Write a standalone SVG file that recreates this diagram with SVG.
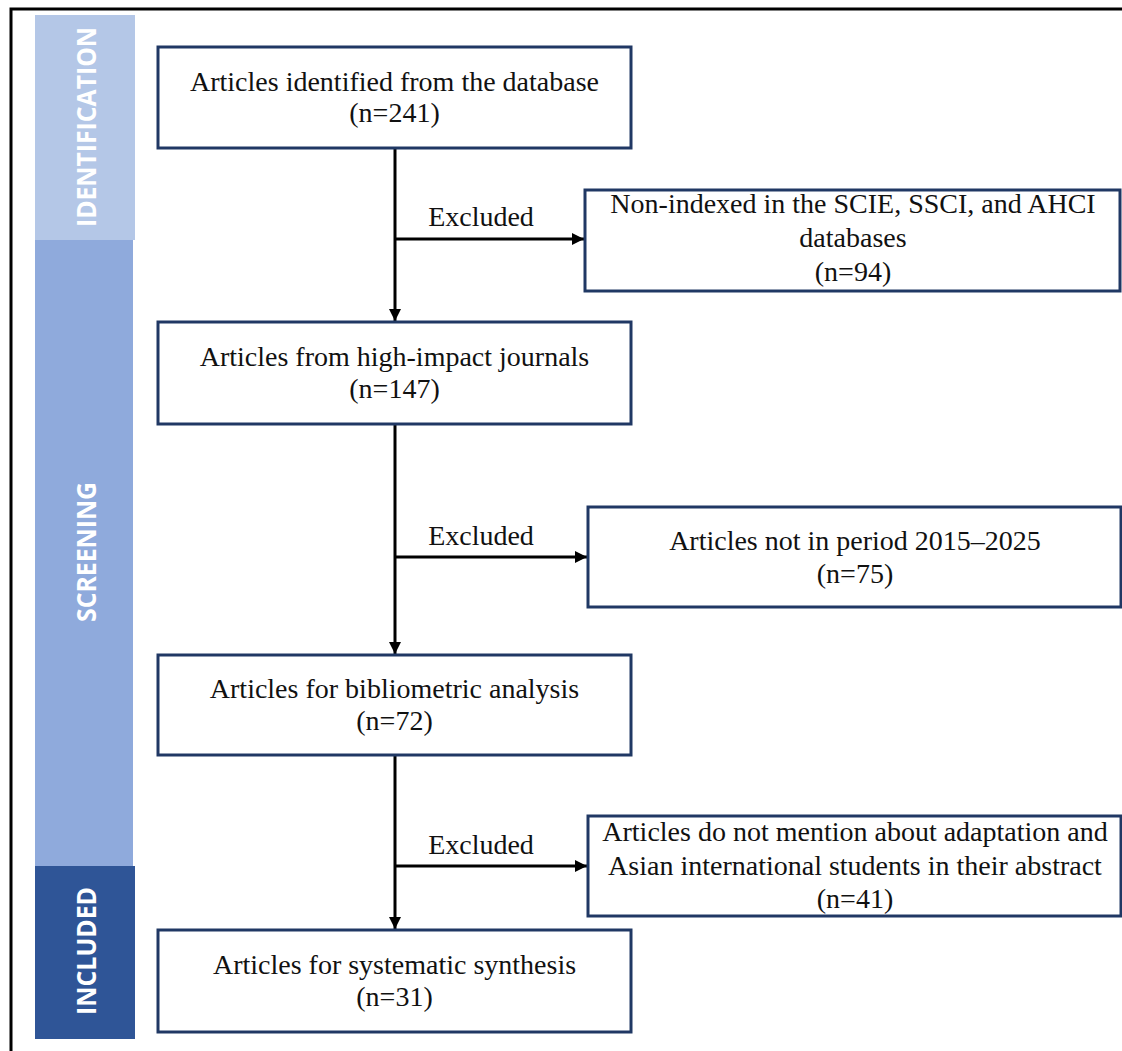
<svg xmlns="http://www.w3.org/2000/svg" width="1122" height="1051" viewBox="0 0 1122 1051">
<style>
.box{fill:#fff;stroke:#203864;stroke-width:3}
.t{font-family:"Liberation Serif","Times New Roman",serif;font-size:28px;fill:#111;text-anchor:middle}
.side{font-family:"Open Sans","DejaVu Sans",sans-serif;font-weight:bold;font-size:27px;fill:#fff;text-anchor:middle}
.ln{stroke:#000;stroke-width:3;fill:none}
</style>
<defs>
<marker id="ah" viewBox="0 0 10 10" refX="10" refY="5" markerWidth="4" markerHeight="4" orient="auto" markerUnits="strokeWidth">
<path d="M0,0 L10,5 L0,10 z" fill="#000"/>
</marker>
</defs>
<rect width="1122" height="1051" fill="#fff"/>
<path d="M11,1051 V9 H1122" fill="none" stroke="#000" stroke-width="3"/>
<g id="phase-identification">
<rect x="35" y="15" width="100" height="225" fill="#B4C7E7"/>
<text class="side" transform="translate(96,127) rotate(-90)" textLength="200" lengthAdjust="spacingAndGlyphs">IDENTIFICATION</text>
</g>
<g id="phase-screening">
<rect x="35" y="240" width="98" height="626" fill="#8FAADC"/>
<text class="side" transform="translate(96,552) rotate(-90)" textLength="140" lengthAdjust="spacingAndGlyphs">SCREENING</text>
</g>
<g id="phase-included">
<rect x="35" y="866" width="100" height="173" fill="#2F5597"/>
<text class="side" transform="translate(96,951) rotate(-90)" textLength="128" lengthAdjust="spacingAndGlyphs">INCLUDED</text>
</g>
<g id="connectors">
<line class="ln" x1="395" y1="148" x2="395" y2="321" marker-end="url(#ah)"/>
<line class="ln" x1="395" y1="424" x2="395" y2="654" marker-end="url(#ah)"/>
<line class="ln" x1="395" y1="755" x2="395" y2="929" marker-end="url(#ah)"/>
<line class="ln" x1="395" y1="239" x2="584" y2="239" marker-end="url(#ah)"/>
<line class="ln" x1="395" y1="557" x2="587" y2="557" marker-end="url(#ah)"/>
<line class="ln" x1="395" y1="866" x2="587" y2="866" marker-end="url(#ah)"/>
<text class="t" x="481" y="226">Excluded</text>
<text class="t" x="481" y="545">Excluded</text>
<text class="t" x="481" y="854">Excluded</text>
</g>
<g id="n-identified">
<rect class="box" x="158" y="47" width="473" height="101"/>
<text class="t" x="394.5" y="91">Articles identified from the database</text>
<text class="t" x="394.5" y="122">(n=241)</text>
</g>
<g id="n-nonindexed">
<rect class="box" x="585" y="190" width="535" height="101"/>
<text class="t" x="853" y="213">Non-indexed in the SCIE, SSCI, and AHCI</text>
<text class="t" x="853" y="247">databases</text>
<text class="t" x="853" y="281">(n=94)</text>
</g>
<g id="n-highimpact">
<rect class="box" x="158" y="322" width="473" height="102"/>
<text class="t" x="394.5" y="366">Articles from high-impact journals</text>
<text class="t" x="394.5" y="398">(n=147)</text>
</g>
<g id="n-period">
<rect class="box" x="588" y="507" width="533" height="100"/>
<text class="t" x="855" y="550">Articles not in period 2015–2025</text>
<text class="t" x="855" y="583">(n=75)</text>
</g>
<g id="n-bibliometric">
<rect class="box" x="158" y="655" width="473" height="100"/>
<text class="t" x="394.5" y="698">Articles for bibliometric analysis</text>
<text class="t" x="394.5" y="730">(n=72)</text>
</g>
<g id="n-abstract">
<rect class="box" x="588" y="816" width="533" height="100"/>
<text class="t" x="855" y="841">Articles do not mention about adaptation and</text>
<text class="t" x="855" y="875">Asian international students in their abstract</text>
<text class="t" x="855" y="908">(n=41)</text>
</g>
<g id="n-synthesis">
<rect class="box" x="158" y="930" width="473" height="102"/>
<text class="t" x="394.5" y="974">Articles for systematic synthesis</text>
<text class="t" x="394.5" y="1006">(n=31)</text>
</g>
</svg>
